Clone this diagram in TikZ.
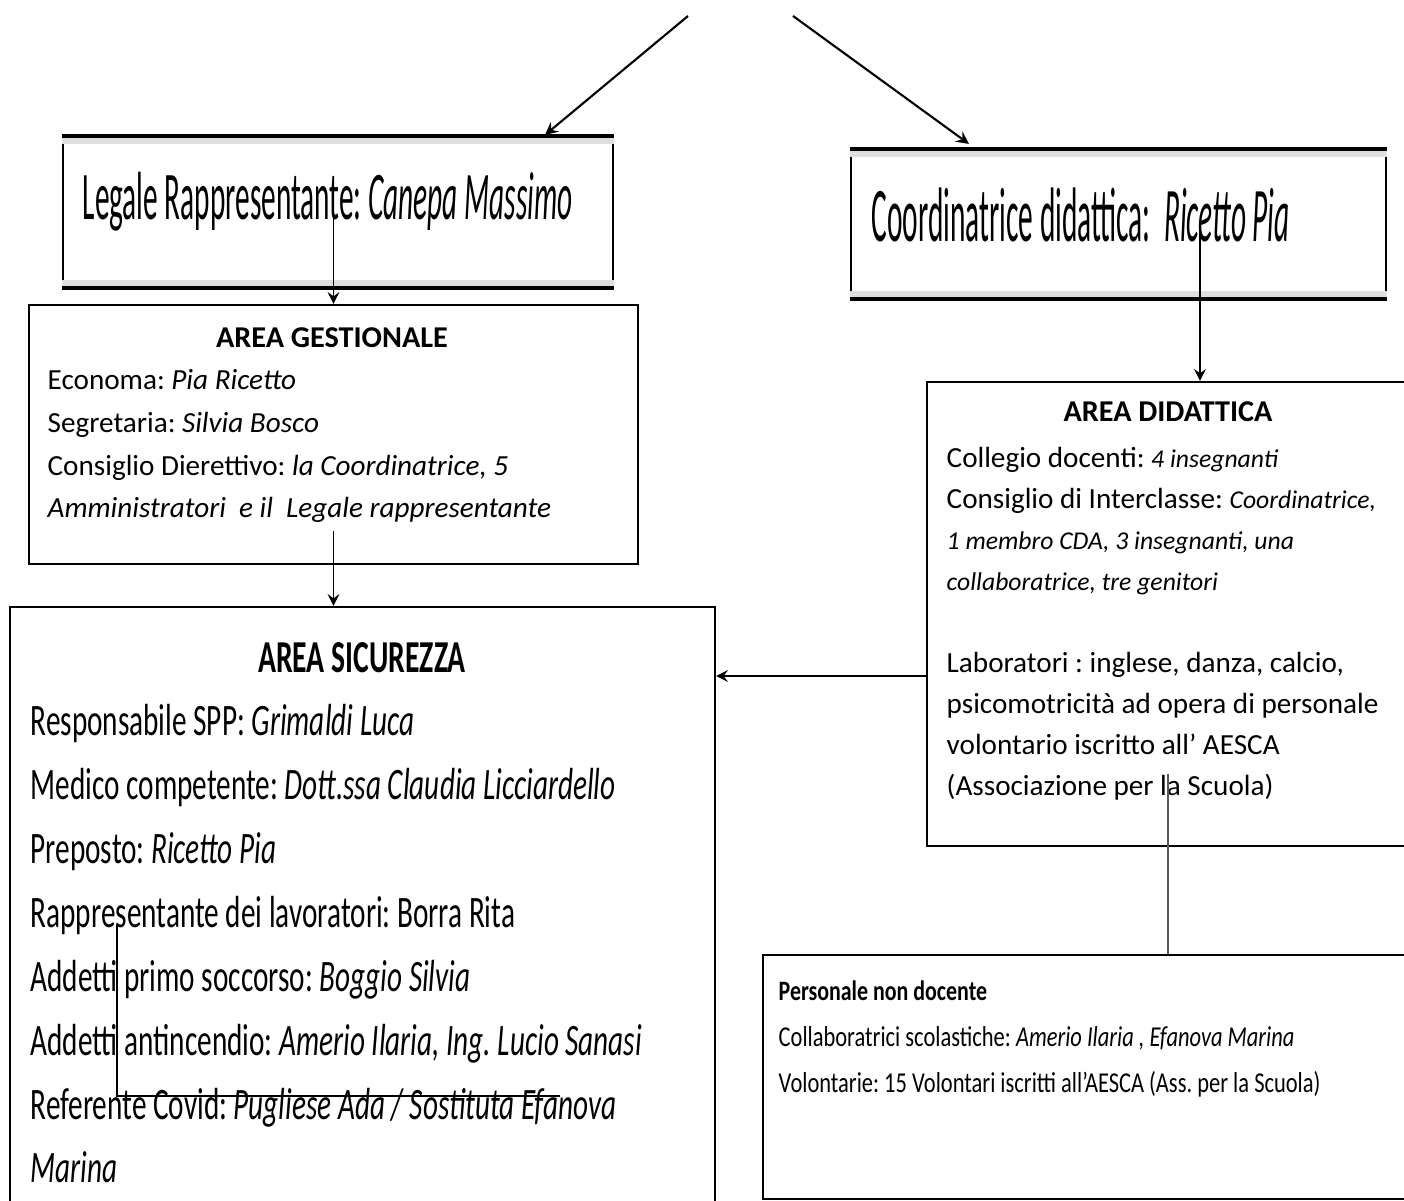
\documentclass[tikz,border=0pt]{standalone}
\usepackage{fontspec}
\setmainfont{Carlito}
\newfontfamily\legalefont[FakeStretch=0.43]{Carlito}
\newfontfamily\coordfont[FakeStretch=0.38]{Carlito}
\newfontfamily\sicfont[FakeStretch=0.65]{Carlito}
\newfontfamily\persfont[FakeStretch=0.78]{Carlito}
\usetikzlibrary{calc,arrows,positioning}
\frenchspacing

% barre grigie e nere delle caselle in alto
\newcommand{\headbars}[1]{%
	\fill[gray!25] ($(#1.north west)+(0,2)$) rectangle ($(#1.north east)+(0,8)$);
	\fill[gray!25] ($(#1.south west)+(0,-8)$) rectangle ($(#1.south east)+(0,-2)$);
	\draw[line width=1.2pt] (#1.north west) -- (#1.north east);
	\draw[line width=1.2pt] (#1.south west) -- (#1.south east);
}
\newcommand{\smit}[1]{{\fontsize{7.3}{11.7}\selectfont\itshape #1}}

\begin{document}
\begin{tikzpicture}[x=0.1mm,y=-0.1mm,
	frame/.style={draw,line width=0.6pt,inner sep=0pt},
	txt/.style={inner sep=0pt,anchor=base west,align=left},
	conn/.style={-stealth,line width=0.5pt}]
	\useasboundingbox (0,0) rectangle (1404,1201);
	\clip (0,0) rectangle (1404,1201);

	% caselle
	\node[frame,minimum width=55mm,minimum height=15mm] (legale) at (338,212) {};
	\node[frame,minimum width=53.5mm,minimum height=14.8mm] (coord) at (1118.5,224) {};
	\node[frame,minimum width=60.9mm,minimum height=25.9mm] (gest) at (333.5,434.5) {};
	\node[frame,minimum width=70.5mm,minimum height=65.3mm] (sic) at (362.5,933.5) {};
	\node[frame,minimum width=54.6mm,minimum height=46.4mm] (did) at (1200,614) {};
	\node[frame,minimum width=81mm,minimum height=24.4mm] (pers) at (1168,1077) {};
	\headbars{legale}
	\headbars{coord}

	% testi (ancorati alla linea di base dell'ultima riga)
	\node[txt,font=\legalefont\fontsize{19.4}{22}\selectfont] (legaletxt) at (82,220) {Legale Rappresentante: \textit{Canepa Massimo}};
	\node[txt,font=\coordfont\fontsize{22}{26}\selectfont] (coordtxt) at (871,242) {Coordinatrice didattica:\ \ \textit{Ricetto Pia}};

	\node[inner sep=0pt,anchor=base,font=\bfseries\fontsize{8.6}{10}\selectfont] (gesttit) at (332,348) {AREA GESTIONALE};
	\node[txt,font=\fontsize{8.3}{12.2}\selectfont] (gesttxt) at (47,518) {Economa: \textit{Pia Ricetto}\\
		Segretaria: \textit{Silvia Bosco}\\
		Consiglio Dierettivo: \textit{la Coordinatrice, 5}\\
		\textit{Amministratori\ \ e il\ \ Legale rappresentante}};

	\node[inner sep=0pt,anchor=base,font=\sicfont\bfseries\fontsize{13}{15}\selectfont] (sictit) at (362,673) {AREA SICUREZZA};
	\node[txt,font=\sicfont\fontsize{12.8}{18.2}\selectfont] (sictxt) at (30,1183) {Responsabile SPP: \textit{Grimaldi Luca}\\
		Medico competente: \textit{Dott.ssa Claudia Licciardello}\\
		Preposto: \textit{Ricetto Pia}\\
		Rappresentante dei lavoratori: Borra Rita\\
		Addetti primo soccorso: \textit{Boggio Silvia}\\
		Addetti antincendio: \textit{Amerio Ilaria, Ing. Lucio Sanasi}\\
		Referente Covid: \textit{Pugliese Ada / Sostituta Efanova}\\
		\textit{Marina}};

	\node[inner sep=0pt,anchor=base,font=\bfseries\fontsize{8.6}{10}\selectfont] (didtit) at (1168,422) {AREA DIDATTICA};
	\node[txt,font=\fontsize{8.3}{11.7}\selectfont] (didtxt) at (946,796) {Collegio docenti: \smit{4 insegnanti}\\
		Consiglio di Interclasse: \smit{Coordinatrice,}\\
		\smit{1 membro CDA, 3 insegnanti, una}\\
		\smit{collaboratrice, tre genitori}\\[11.7pt]
		Laboratori : inglese, danza, calcio,\\
		psicomotricità ad opera di personale\\
		volontario iscritto all’ AESCA\\
		(Associazione per la Scuola)};

	\node[txt,font=\persfont\bfseries\fontsize{8}{10}\selectfont] (perstit) at (778,1001) {Personale non docente};
	\node[txt,font=\persfont\fontsize{8.2}{13.1}\selectfont] (perstxt) at (778,1093) {Collaboratrici scolastiche: \textit{Amerio Ilaria , Efanova Marina}\\
		Volontarie: 15 Volontari iscritti all’AESCA (Ass. per la Scuola)};

	% collegamenti
	\coordinate (top1) at (688,16);
	\coordinate (top2) at (793,16);
	\draw[conn,line width=0.6pt] (top1) -- ($(legale.north east)+(-69,-1)$);
	\draw[conn,line width=0.6pt] (top2) -- ($(coord.north west)+(119,-5)$);
	\draw[conn] (legale.center -| gest.north) -- (gest.north);
	\draw[conn] ($(gest.south)+(0,-34)$) -- (gest.south |- sic.north);
	\draw[conn] (coord.center -| did.north) -- (did.north);
	\coordinate (lab) at ($(did.west)+(0,62)$);
	\draw[conn] (lab) -- (lab -| sic.east);
	\draw[gray!70!black,line width=0.6pt] ($(pers.north)+(0,-180)$) -- (pers.north);
	\draw[line width=0.8pt] (117,925) |- (560,1096);
\end{tikzpicture}
\end{document}
